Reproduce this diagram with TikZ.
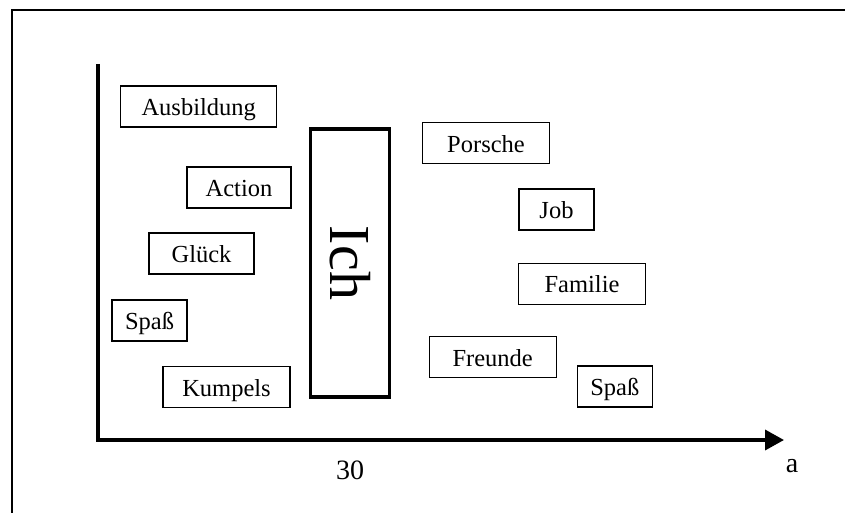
\documentclass[tikz,border=0pt]{standalone}
\usepackage{fontspec}
\setmainfont{Liberation Serif}
\usetikzlibrary{arrows.meta}

\tikzset{
  begriff/.style={draw, line width=1.4pt, inner sep=0pt, minimum height=41pt,
    text height=22pt, text depth=4pt, font=\fontsize{24.5}{28}\selectfont},
  ichbox/.style={draw, line width=3.8pt, inner sep=0pt, rotate=-90,
    minimum width=268pt, minimum height=79pt, font=\fontsize{58}{64}\selectfont},
  achse/.style={line width=3.6pt, line join=miter},
  achslabel/.style={inner sep=0pt, font=\fontsize{28}{32}\selectfont}
}

\begin{document}
\begin{tikzpicture}[x=1pt,y=-1pt]
\useasboundingbox (0,0) rectangle (845,513);
% Rahmen
\draw[line width=1.1pt] (12,513) -- (12,10) -- (845,10);
% Achsen
\coordinate (yende) at (98,64);
\coordinate (ursprung) at (98,440);
\coordinate (xende) at (784,440);
\draw[achse,-{Triangle[length=19pt,width=20pt]}] (yende) -- (ursprung) -- (xende);
\node[achslabel] (dreissig) at (350,470) {30};
\node[achslabel] (alter) at (792,466) {a};
% linke Seite
\node[begriff, minimum width=156pt] (ausbildung) at (198.7,106.7) {Ausbildung};
\node[begriff, minimum width=104pt] (action) at (239,187.5) {Action};
\node[begriff, minimum width=105pt] (glueck) at (201.5,253.5) {Glück};
\node[begriff, minimum width=75pt] (spassL) at (149.5,320.5) {Spaß};
\node[begriff, minimum width=127pt] (kumpels) at (226.5,387) {Kumpels};
% Ich
\node[ichbox] (ich) at (350,263) {Ich};
% rechte Seite
\node[begriff, minimum width=127pt] (porsche) at (486,143.3) {Porsche};
\node[begriff, minimum width=75pt] (job) at (556.5,209.5) {Job};
\node[begriff, minimum width=127pt] (familie) at (582,283.7) {Familie};
\node[begriff, minimum width=127pt] (freunde) at (492.7,357) {Freunde};
\node[begriff, minimum width=75pt] (spassR) at (614.8,386.3) {Spaß};
\end{tikzpicture}
\end{document}
